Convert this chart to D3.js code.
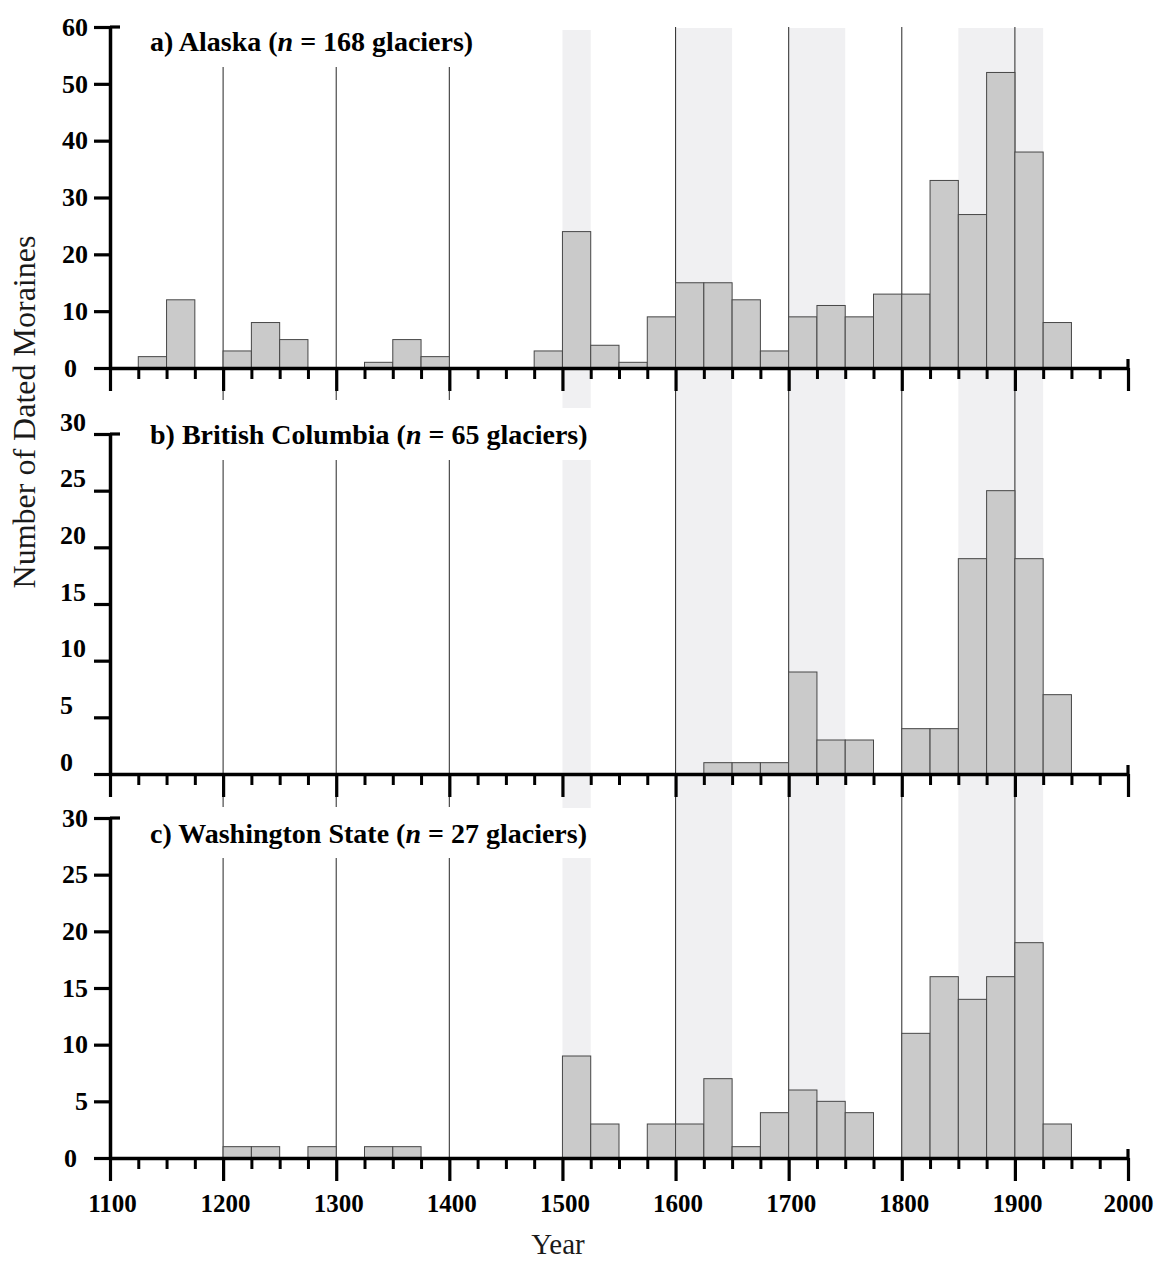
<!DOCTYPE html>
<html><head><meta charset="utf-8">
<script src="https://cdn.jsdelivr.net/npm/d3@7"></script>
<style>body{margin:0;background:#fff} svg{display:block}</style>
</head><body><svg id="chart" width="1163" height="1263"></svg>
<script>
// ---------- data ----------
const binStart = [1100,1125,1150,1175,1200,1225,1250,1275,1300,1325,1350,1375,1400,1425,1450,1475,1500,1525,1550,1575,1600,1625,1650,1675,1700,1725,1750,1775,1800,1825,1850,1875,1900,1925];
const binWidth = 25;
const alaska =          [0,2,12,0,3,8,5,0,0,1,5,2,0,0,0,3,24,4,1,9,15,15,12,3,9,11,9,13,13,33,27,52,38,8];
const britishColumbia = [0,0,0,0,0,0,0,0,0,0,0,0,0,0,0,0,0,0,0,0,0,1,1,1,9,3,3,0,4,4,19,25,19,7];
const washington =      [0,0,0,0,1,1,0,1,0,1,1,0,0,0,0,0,9,3,0,3,3,7,1,4,6,5,4,0,11,16,14,16,19,3];
const xMajorYears = [1100,1200,1300,1400,1500,1600,1700,1800,1900,2000];
const xMinorYears = [1125,1150,1175,1225,1250,1275,1325,1350,1375,1425,1450,1475,1525,1550,1575,1625,1650,1675,1725,1750,1775,1825,1850,1875,1925,1950,1975];
const yTicksAlaska = [0,10,20,30,40,50,60];
const yTicksOther = [0,5,10,15,20,25,30];
const panelNames = ["a) Alaska", "b) British Columbia", "c) Washington State"];
const panelCounts = ["168", "65", "27"];
const shadedShort = [[1500,1525]];
const shadedLong = [[1600,1650],[1700,1750],[1850,1925]];
const refLinesShort = [1200,1300,1400];
const refLinesLong = [1600,1700,1800,1900];

// ---------- layout ----------
const svg = d3.select("#chart");
const FONT = "'Liberation Serif','Times New Roman',Times,serif";
const x = d3.scaleLinear().domain([1100,2000]).range([110,1128]);
const panels = [
  {values: alaska, max: 60, ticks: yTicksAlaska, y0: 368, y1: 27, titleY: 51, shortTop: 67, shortBottom: 400, bandTop: 30, bandBottom: 408, labelMode: "a"},
  {values: britishColumbia, max: 30, ticks: yTicksOther, y0: 774, y1: 434, titleY: 444, shortTop: 460, shortBottom: 807, bandTop: 460, bandBottom: 808, labelMode: "b"},
  {values: washington, max: 30, ticks: yTicksOther, y0: 1158, y1: 818, titleY: 843, shortTop: 858, shortBottom: 1158, bandTop: 858, bandBottom: 1158, labelMode: "c"}
];
const BAND = "#f0f0f2";

// long shaded periods across all panels
svg.append("g").selectAll("rect").data(shadedLong).join("rect")
  .attr("x", d => x(d[0])).attr("width", d => x(d[1]) - x(d[0]))
  .attr("y", 28).attr("height", 1158 - 28).attr("fill", BAND);

// long reference lines
svg.append("g").selectAll("line").data(refLinesLong).join("line")
  .attr("x1", d => x(d)).attr("x2", d => x(d))
  .attr("y1", 27).attr("y2", 1158)
  .attr("stroke", "#3a3a3a").attr("stroke-width", 1.1);

panels.forEach((p, i) => {
  const y = d3.scaleLinear().domain([0, p.max]).range([p.y0, p.y1]);
  const g = svg.append("g");

  g.selectAll("rect.band").data(shadedShort).join("rect").attr("class","band")
    .attr("x", d => x(d[0])).attr("width", d => x(d[1]) - x(d[0]))
    .attr("y", p.bandTop).attr("height", p.bandBottom - p.bandTop).attr("fill", BAND);

  g.selectAll("line.ref").data(refLinesShort).join("line").attr("class","ref")
    .attr("x1", d => x(d)).attr("x2", d => x(d))
    .attr("y1", p.shortTop).attr("y2", p.shortBottom)
    .attr("stroke", "#3a3a3a").attr("stroke-width", 1.1);

  const bins = binStart.map((b, k) => ({start: b, v: p.values[k]})).filter(d => d.v > 0);
  g.selectAll("rect.bar").data(bins).join("rect").attr("class","bar")
    .attr("x", d => x(d.start)).attr("width", d => x(d.start + binWidth) - x(d.start))
    .attr("y", d => y(d.v)).attr("height", d => p.y0 - y(d.v))
    .attr("fill", "#cacaca").attr("stroke", "#474747").attr("stroke-width", 1);

  // x axis: minor ticks
  const gxMinor = g.append("g").attr("transform", `translate(0,${p.y0})`)
    .call(d3.axisBottom(x).tickValues(xMinorYears).tickSize(11).tickSizeOuter(0).tickFormat(""));
  gxMinor.select(".domain").attr("stroke", "#000").attr("stroke-width", 3.5);
  gxMinor.selectAll(".tick line").attr("stroke", "#000").attr("stroke-width", 3);

  // x axis: major ticks
  const gxMajor = g.append("g").attr("transform", `translate(0,${p.y0})`)
    .call(d3.axisBottom(x).tickValues(xMajorYears).tickSize(23).tickSizeOuter(0)
      .tickFormat(i === 2 ? d3.format("d") : ""));
  gxMajor.select(".domain").remove();
  gxMajor.selectAll(".tick line").attr("stroke", "#000").attr("stroke-width", 3.2);
  gxMajor.selectAll(".tick text").attr("y", 54).attr("x", d => d === 2000 ? 0 : 2).attr("dy", 0)
    .attr("font-family", FONT).attr("font-weight", "bold").attr("font-size", 25).attr("fill", "#000");

  // end cap at 2000 extends upward
  g.append("line").attr("x1", x(2000)).attr("x2", x(2000))
    .attr("y1", p.y0 - 9).attr("y2", p.y0).attr("stroke", "#000").attr("stroke-width", 3.2);

  // y axis
  const gy = g.append("g").attr("transform", `translate(${x(1100)},0)`)
    .call(d3.axisLeft(y).tickValues(p.ticks).tickSize(16).tickSizeOuter(0));
  gy.select(".domain").attr("stroke", "#000").attr("stroke-width", 3.5);
  gy.selectAll(".tick line").attr("stroke", "#000").attr("stroke-width", 3.2);
  gy.selectAll(".tick text")
    .attr("font-family", FONT).attr("font-weight", "bold").attr("font-size", 26).attr("fill", "#000")
    .each(function(d) {
      const t = d3.select(this);
      if (p.labelMode === "b") {
        t.attr("text-anchor", "start").attr("x", -50).attr("y", -12);
      } else if (d === 0) {
        t.attr("text-anchor", "start").attr("x", -46);
      } else {
        t.attr("text-anchor", "end").attr("x", -22);
      }
    });
  // T cap at top of y axis
  g.append("line").attr("x1", x(1100)).attr("x2", x(1100) + 10)
    .attr("y1", p.y1).attr("y2", p.y1).attr("stroke", "#000").attr("stroke-width", 3.2);

  // panel title
  const title = g.append("text").attr("x", 150).attr("y", p.titleY)
    .attr("font-family", FONT).attr("font-weight", "bold").attr("font-size", 28).attr("fill", "#000");
  title.append("tspan").text(panelNames[i] + " (");
  title.append("tspan").attr("font-style", "italic").text("n");
  title.append("tspan").text(" = " + panelCounts[i] + " glaciers)");
});

// axis titles
svg.append("text").attr("transform", "translate(35,412) rotate(-90)")
  .attr("text-anchor", "middle").attr("font-family", FONT).attr("font-size", 32).attr("fill", "#1a1a1a")
  .text("Number of Dated Moraines");
svg.append("text").attr("x", 558).attr("y", 1254)
  .attr("text-anchor", "middle").attr("font-family", FONT).attr("font-size", 29).attr("fill", "#1a1a1a")
  .text("Year");
</script>
</body></html>
